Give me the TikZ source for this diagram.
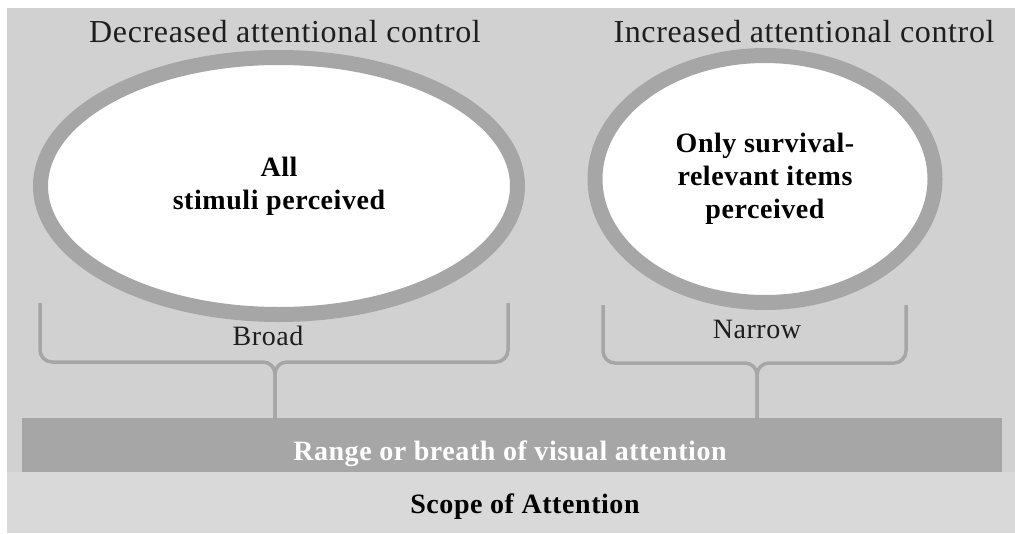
\documentclass[tikz,border=0pt]{standalone}
\usepackage{fontspec}
\setmainfont{Liberation Serif}[LetterSpace=2]
\usetikzlibrary{shapes.geometric}

\definecolor{panel}{HTML}{D1D1D1}
\definecolor{band}{HTML}{D9D9D9}
\definecolor{ring}{HTML}{A6A6A6}
\definecolor{ink}{HTML}{1E1E1E}

\begin{document}
\begin{tikzpicture}[x=1pt,y=-1pt,
  title/.style={font=\fontsize{32}{36}\selectfont, text=ink, anchor=base, inner sep=0pt},
  scopeell/.style={ellipse, draw=ring, line width=15pt, fill=white, inner sep=0pt,
    font=\fontsize{28}{33}\selectfont\bfseries, text=black, align=center},
  brace/.style={draw=ring, line width=3.5pt, rounded corners=12pt},
  tag/.style={font=\fontsize{28}{33}\selectfont, text=ink, anchor=base, inner sep=0pt},
  boldtag/.style={font=\fontsize{28}{33}\selectfont\bfseries, anchor=base, inner sep=0pt},
]
\useasboundingbox (0,0) rectangle (1015,533);
% backgrounds
\fill[white] (0,0) rectangle (1015,533);
\fill[panel] (7,8) rectangle (1015,472);
\fill[band] (7,472) rectangle (1015,533);

% headings
\node[title] (dec) at (285,42) {Decreased attentional control};
\node[title] (inc) at (804,42) {Increased attentional control};

% the two attention fields
\node[scopeell, minimum width=477pt, minimum height=257pt] (broad) at (279,186)
  {All\\stimuli perceived};
\node[scopeell, minimum width=340pt, minimum height=247pt] (narrow) at (765,179)
  {Only survival-\\relevant items\\perceived};

% range bar
\node[fill=ring, minimum width=980pt, minimum height=54pt, inner sep=0pt,
  anchor=north west] (bar) at (22,418) {};
\node[boldtag, text=white] (barlabel) at (510,460) {Range or breath of visual attention};

% braces gathering each field onto the bar
\coordinate (lj) at (275,362);
\coordinate (rj) at (757,363);
\draw[brace] (40,303) -- (40,362) -- (lj) -- (lj |- bar.north);
\draw[brace] (508,303) -- (508,362) -- (lj) -- (lj |- bar.north);
\draw[brace] (603,305) -- (603,363) -- (rj) -- (rj |- bar.north);
\draw[brace] (906,305) -- (906,363) -- (rj) -- (rj |- bar.north);

\node[tag] (broadlbl) at (268,345) {Broad};
\node[tag] (narrowlbl) at (757,338) {Narrow};

% caption
\node[boldtag, text=black] (scope) at (525,513) {Scope of Attention};
\end{tikzpicture}
\end{document}
